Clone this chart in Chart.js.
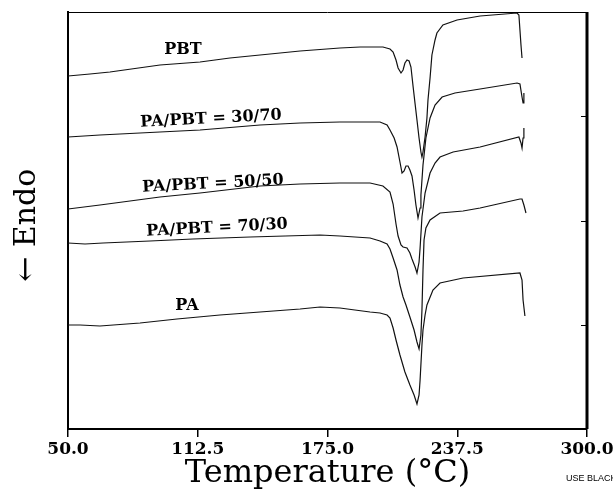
<!DOCTYPE html>
<html><head><meta charset="utf-8">
<script src="https://cdn.jsdelivr.net/npm/chart.js@4.4.0/dist/chart.umd.min.js"></script>
<style>html,body{margin:0;padding:0;background:#fff;overflow:hidden}canvas{display:block}</style>
</head><body>
<canvas id="c" width="613" height="491"></canvas>
<script>
// Temperature tick labels (°C)
const xTicks = [50, 112.5, 175, 237.5, 300];

// PBT
const pbtT = [50.0,60.6,70.2,94.3,113.6,128.0,142.5,161.8,181.0,190.7,201.7,205.1,206.6,208.0,209.0,210.4,211.4,212.3,213.3,214.3,215.2,216.2,217.2,218.1,219.1,220.0,220.5,221.0,222.0,222.9,223.4,224.4,225.3,226.8,227.7,230.6,237.4,248.5,266.3,267.2,267.7,268.2,268.7];
const pbtY = [353,355,357,364,367,371,374,378,381,382,382,380,377,369,361,356,359,366,369,368,362,343,325,309,291,277,272,277,292,311,329,351,374,389,396,404,409,413,416,414,399,384,371];

// PA/PBT = 30/70
const b3070T = [50.0,65.4,94.3,113.6,142.5,161.8,181.0,200.3,203.7,205.1,207.1,208.5,209.9,210.9,211.9,212.8,213.8,214.7,215.7,216.7,217.6,218.6,219.6,220.0,221.0,222.4,224.4,226.8,230.2,236.4,248.5,266.3,267.7,268.7,269.2,269.6];
const b3070Y = [292,294,297,299,304,306,307,307,304,299,291,282,267,256,258,263,263,259,253,239,224,211,221,234,264,291,311,324,332,336,340,346,345,332,326,336];

// PA/PBT = 50/50
const b5050T = [50.0,65.4,94.3,113.6,142.5,161.8,181.0,195.5,201.7,205.1,206.6,208.0,209.0,210.4,211.4,213.3,214.7,215.7,217.2,218.1,219.1,219.6,220.5,222.0,224.4,226.8,229.2,235.5,248.5,267.2,268.2,268.7,269.2,269.6];
const b5050Y = [220,224,232,236,243,245,246,246,243,237,225,205,193,184,182,181,176,170,162,156,167,181,212,236,256,266,272,277,282,292,286,281,291,301];

// PA/PBT = 70/30
const b7030T = [50.0,58.2,66.9,89.5,110.2,137.7,171.4,181.0,195.5,200.3,203.7,205.1,206.6,208.5,209.9,211.4,212.8,214.7,216.7,218.1,219.1,220.0,220.5,221.0,221.5,222.4,224.4,229.2,240.3,248.5,267.7,268.7,269.6,270.6];
const b7030Y = [186,185,186,188,190,192,194,193,191,188,185,180,171,159,144,132,124,112,99,87,80,94,119,159,189,201,209,216,218,221,230,230,224,216];

// PA
const paT = [50.0,55.8,65.4,84.7,102.5,123.2,142.5,161.8,171.4,181.0,188.2,195.5,200.3,203.7,205.1,206.6,208.0,209.9,212.3,214.7,216.7,218.1,219.1,219.6,220.5,221.0,222.0,222.9,225.8,229.2,240.3,267.7,268.7,269.2,270.1];
const paY = [104,104,103,106,110,114,117,120,122,121,119,117,116,114,111,101,89,74,57,44,34,25,34,49,84,99,114,124,139,146,151,156,149,129,113];

const seriesNames = ['PBT','PA/PBT = 30/70','PA/PBT = 50/50','PA/PBT = 70/30','PA'];
const seriesT = [pbtT, b3070T, b5050T, b7030T, paT];
const seriesY = [pbtY, b3070Y, b5050Y, b7030Y, paY];

// curve labels anchored in data coordinates
const labelAnchors = [
  {t:105.4, y:379, rot:0},
  {t:118.9, y:310, rot:-3},
  {t:119.8, y:245, rot:-3},
  {t:121.8, y:201, rot:-3},
  {t:107.3, y:123, rot:0}
];

const datasets = seriesNames.map((n, i) => ({
  label: n,
  data: seriesT[i].map((t, j) => ({x: t, y: seriesY[i][j]})),
  borderColor: '#111',
  borderWidth: 1.2,
  pointRadius: 0,
  tension: 0,
  fill: false
}));

const extras = {
  id: 'extras',
  afterDraw(chart) {
    const ctx = chart.ctx, a = chart.chartArea, xs = chart.scales.x, ys = chart.scales.y;
    ctx.save();
    ctx.strokeStyle = '#000';
    ctx.lineWidth = 1;
    ctx.beginPath(); ctx.moveTo(a.left, a.top + 0.5); ctx.lineTo(a.right, a.top + 0.5); ctx.stroke();
    ctx.lineWidth = 3;
    ctx.beginPath(); ctx.moveTo(a.right, a.top); ctx.lineTo(a.right, a.bottom); ctx.stroke();
    ctx.lineWidth = 1;
    ys.ticks.forEach(tk => {
      if (tk.value > ys.min + 1 && tk.value < ys.max - 1) {
        const y = Math.round(ys.getPixelForValue(tk.value)) + 0.5;
        ctx.beginPath(); ctx.moveTo(a.right - 6, y); ctx.lineTo(a.right, y); ctx.stroke();
      }
    });
    ctx.fillStyle = '#000';
    ctx.font = 'bold 16px "DejaVu Serif"';
    ctx.textAlign = 'center';
    ctx.textBaseline = 'middle';
    labelAnchors.forEach((l, i) => {
      ctx.save();
      ctx.translate(xs.getPixelForValue(l.t), ys.getPixelForValue(l.y));
      ctx.rotate(l.rot * Math.PI / 180);
      ctx.fillText(seriesNames[i], 0, 0);
      ctx.restore();
    });
    ctx.font = '9px "Liberation Sans"';
    ctx.textAlign = 'left';
    ctx.fillText('USE BLACK INK', 566, 479);
    ctx.restore();
  }
};

new Chart(document.getElementById('c'), {
  type: 'line',
  data: {datasets},
  plugins: [extras],
  options: {
    responsive: false,
    animation: false,
    devicePixelRatio: 1,
    layout: {padding: {top: 12, right: 26, bottom: 0, left: 0}},
    plugins: {legend: {display: false}, tooltip: {enabled: false}},
    scales: {
      x: {
        type: 'linear', min: 50, max: 300,
        afterBuildTicks: s => { s.ticks = xTicks.map(v => ({value: v})); },
        ticks: {callback: v => Number(v).toFixed(1), color: '#000', padding: 4, maxRotation: 0, autoSkip: false,
          font: {family: 'DejaVu Serif', weight: 'bold', size: 17, lineHeight: 1}},
        grid: {display: true, drawOnChartArea: false, drawTicks: true, tickLength: 8, color: '#000', lineWidth: 1.5},
        border: {display: true, color: '#000', width: 2},
        title: {display: true, text: 'Temperature (°C)', color: '#000',
          font: {family: 'DejaVu Serif', size: 32, lineHeight: 1}, padding: {top: 0, bottom: 1}},
        afterFit: s => { s.height = 62; s.paddingLeft = 0; s.paddingRight = 0; }
      },
      y: {
        min: 0, max: 417,
        ticks: {display: false, stepSize: 104.25},
        grid: {display: false},
        border: {display: true, color: '#000', width: 2},
        title: {display: true, text: '← Endo\u00A0', color: '#000',
          font: {family: 'DejaVu Serif', size: 30, lineHeight: 1}, padding: {top: 12, bottom: 0}},
        afterFit: s => { s.width = 68; }
      }
    }
  }
});
</script>
</body></html>
